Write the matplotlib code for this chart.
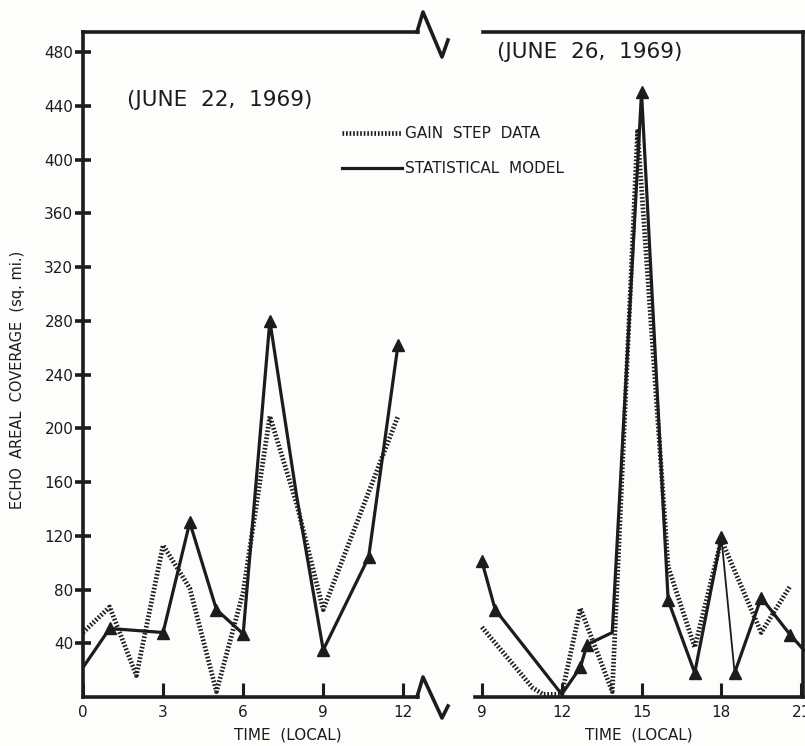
import matplotlib
matplotlib.use("Agg")
from matplotlib import pyplot as plt
from matplotlib.lines import Line2D

# June 22, 1969
jun22_gain_t = [0, 1, 2, 3, 4, 5, 6, 7, 8, 9, 11.8]
jun22_gain_v = [48, 67, 16, 113, 81, 4, 78, 209, 144, 65, 209]
jun22_model_t = [0, 1, 3, 4, 5, 6, 7, 8, 9, 10.7, 11.8]
jun22_model_v = [22, 51, 48, 130, 65, 47, 280, 150, 35, 104, 262]
jun22_marks = [1, 2, 3, 4, 5, 6, 8, 9, 10]

# June 26, 1969
jun26_gain_t = [9, 10.9, 11.3, 12, 12.7, 13.9, 14.85, 16, 17, 18, 19.5, 20.6]
jun26_gain_v = [52, 7, 2, 2, 66, 4, 421, 97, 37, 117, 48, 83]
jun26_model_t = [9, 9.5, 12, 12.7, 12.95, 13.9, 15, 16, 17, 18, 18.5, 19.5, 20.6, 21.1]
jun26_model_v = [101, 65, 2, 22, 39, 48, 450, 72, 18, 119, 18, 74, 46, 35]
jun26_marks = [0, 1, 3, 4, 6, 7, 8, 9, 10, 11, 12]
jun26_thin = 9   # segment 18 -> 18.5 drawn with a thin pen

yticks = list(range(40, 481, 40))
ticks22 = [0, 3, 6, 9, 12]
ticks26 = [9, 12, 15, 18, 21]

ink = "#1c1c1c"
W, H = 805, 746

fig = plt.figure(figsize=(W / 100, H / 100), dpi=100)
fig.patch.set_facecolor("#fdfdfb")

axL = fig.add_axes([83 / W, 49 / H, 335 / W, 665 / H])
axR = fig.add_axes([475 / W, 49 / H, 328 / W, 665 / H])

dot = dict(color=ink, lw=3.4, linestyle=(0, (0.35, 0.4)), solid_capstyle="butt")
sol = dict(color=ink, lw=2.3, marker="^", markersize=9)

axL.plot(jun22_gain_t, jun22_gain_v, **dot)
axL.plot(jun22_model_t, jun22_model_v, markevery=jun22_marks, **sol)

axR.plot(jun26_gain_t, jun26_gain_v, **dot)
k = jun26_thin
m1 = [i for i in jun26_marks if i <= k]
m2 = [i - (k + 1) for i in jun26_marks if i >= k + 1]
axR.plot(jun26_model_t[:k + 1], jun26_model_v[:k + 1], markevery=m1, **sol)
axR.plot(jun26_model_t[k:k + 2], jun26_model_v[k:k + 2], color=ink, lw=1.3)
axR.plot(jun26_model_t[k + 1:], jun26_model_v[k + 1:], markevery=m2, clip_on=False, **sol)

for ax in (axL, axR):
    ax.set_facecolor("none")
    ax.set_ylim(0, 495)
    for s in ax.spines.values():
        s.set_linewidth(2.6)
        s.set_color(ink)
    ax.tick_params(axis="x", direction="in", length=10, width=2.2, colors=ink,
                   labelsize=11, pad=6)

axL.set_xlim(0, 12.55)
axL.spines["right"].set_visible(False)
axL.set_xticks(ticks22)
axL.set_yticks(yticks)
axL.tick_params(axis="y", direction="inout", length=12, width=2.6, colors=ink,
                labelsize=11, pad=1)

axR.set_xlim(8.74, 21.07)
axR.spines["left"].set_visible(False)
axR.spines["top"].set_bounds(9.05, 21.07)
axR.set_xticks(ticks26)
axR.set_yticks([])

axL.set_xlabel("TIME  (LOCAL)", fontsize=11, color=ink)
axL.xaxis.set_label_coords(0.61, -0.046)
axR.set_xlabel("TIME  (LOCAL)", fontsize=11, color=ink)
axR.xaxis.set_label_coords(0.5, -0.046)

fig.text(18 / W, 1 - 380 / H, "ECHO  AREAL  COVERAGE  (sq. mi.)", rotation=90,
         ha="center", va="center", fontsize=10.5, color=ink)

fig.text(127 / W, 1 - 100 / H, "(JUNE  22,  1969)", ha="left", va="center",
         fontsize=15.5, color=ink)
fig.text(497 / W, 1 - 52 / H, "(JUNE  26,  1969)", ha="left", va="center",
         fontsize=15.5, color=ink)

# axis break marks
for ys in ((32, 12, 57, 40), (697, 677, 718, 706)):
    xs = (417, 423, 442, 448)
    fig.add_artist(Line2D([x / W for x in xs], [1 - y / H for y in ys],
                          transform=fig.transFigure, color=ink, lw=2.6))

handles = [Line2D([], [], **dot), Line2D([], [], color=ink, lw=2.3)]
fig.legend(handles, ["GAIN  STEP  DATA", "STATISTICAL  MODEL"],
           loc="upper left", bbox_to_anchor=(342 / W, 1 - 126 / H),
           frameon=False, fontsize=11, handlelength=3.9, handletextpad=0.25,
           labelspacing=1.3, borderpad=0, borderaxespad=0, labelcolor=ink)

fig.savefig("out.png", dpi=100, facecolor=fig.get_facecolor())
